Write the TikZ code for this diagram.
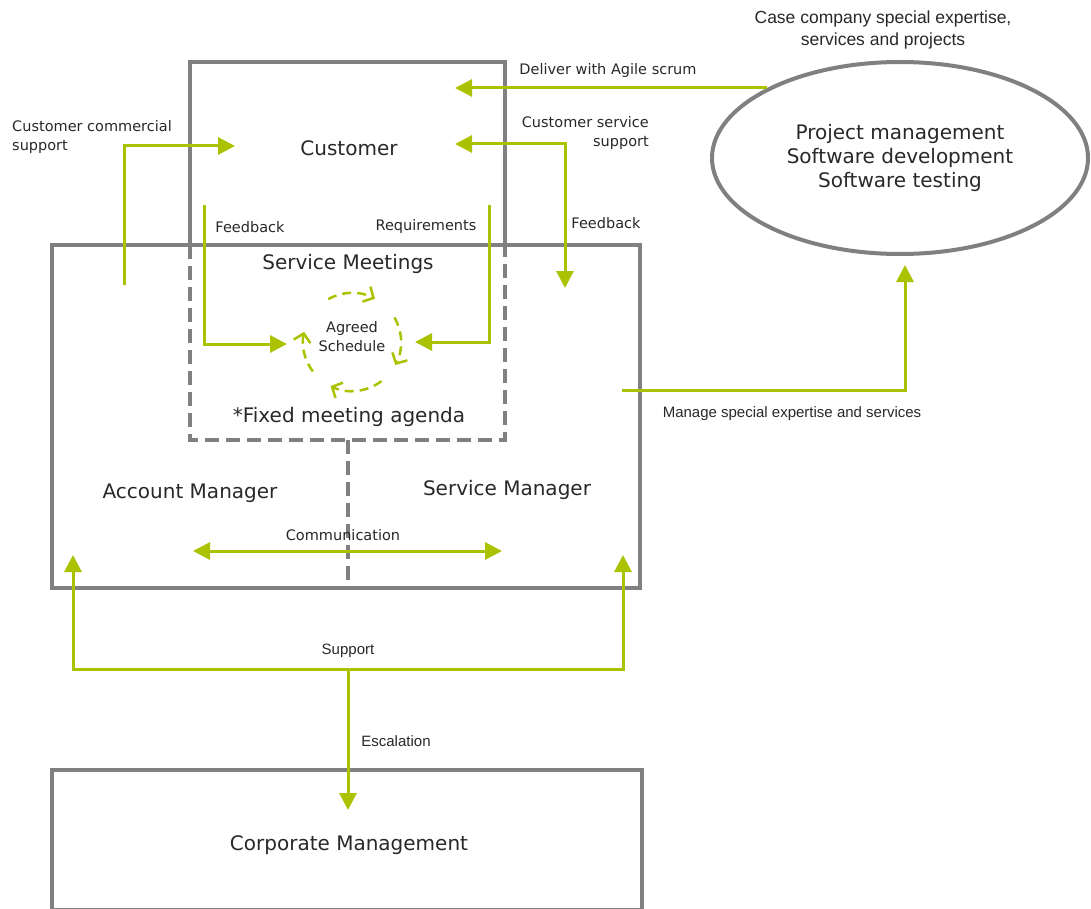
\documentclass[tikz,border=0pt]{standalone}
\usepackage{fontspec}
\setmainfont{DejaVu Sans}
\newfontfamily\arialfont{Liberation Sans}
\usetikzlibrary{arrows.meta,shapes.geometric}
\definecolor{boxgray}{RGB}{128,128,128}
\definecolor{flowgreen}{RGB}{170,194,0}
\definecolor{inkgray}{RGB}{40,40,40}
\tikzset{
  frame/.style={draw=boxgray, line width=4pt},
  dashframe/.style={draw=boxgray, line width=4pt, dash pattern=on 14pt off 7pt},
  flow/.style={draw=flowgreen, line width=3pt, -{Triangle[length=17pt,width=17pt]}},
  flowboth/.style={draw=flowgreen, line width=3pt, {Triangle[length=17pt,width=17pt]}-{Triangle[length=17pt,width=17pt]}},
  cyclearc/.style={draw=flowgreen, line width=2.5pt, dash pattern=on 9pt off 6pt, -{Straight Barb[length=8pt,width=17pt]}},
  lbl/.style={font=\fontsize{14.5}{19}\selectfont, text=inkgray, inner sep=0pt},
  albl/.style={font=\arialfont\fontsize{15}{19}\selectfont, text=inkgray, inner sep=0pt},
  big/.style={font=\fontsize{20}{24}\selectfont, text=inkgray, inner sep=0pt},
}
\begin{document}
\begin{tikzpicture}[x=1pt,y=-1pt]
\useasboundingbox (0,0) rectangle (1091,909);
\clip (0,0) rectangle (1091,909);

% frames
\draw[frame] (52,245) rectangle (640,588);
\draw[frame] (190,245) -- (190,62) -- (505,62) -- (505,245);
\draw[dashframe] (190,245) -- (190,440) -- (505,440) -- (505,245);
\draw[dashframe] (348,440) -- (348,588);
\draw[frame] (52,910) -- (52,770) -- (642,770) -- (642,910) -- cycle;

% expertise ellipse and title
\node[draw=boxgray, line width=4pt, ellipse, minimum width=376pt, minimum height=192pt,
      big, align=center] (expertise) at (900,158)
  {Project management\\Software development\\Software testing};
\node[font=\arialfont\fontsize{17.5}{22}\selectfont, text=inkgray, inner sep=0pt, align=center]
  (casetitle) at (883,30) {Case company special expertise,\\services and projects};

% main texts
\node[big] (customer) at (349,148) {Customer};
\node[big] (meetings) at (348,264) {Service Meetings};
\node[lbl, align=center] (schedule) at (352,337) {Agreed\\Schedule};
\node[big] (agenda) at (349,417) {*Fixed meeting agenda};
\node[big] (account) at (190,493) {Account Manager};
\node[big] (service) at (507,490) {Service Manager};
\node[big] (corporate) at (349,845) {Corporate Management};

% connector labels
\node[lbl] (scrumlbl) at (608,71) {Deliver with Agile scrum};
\node[lbl, align=left, anchor=west] (commlbl) at (12,137) {Customer commercial\\support};
\node[lbl, align=right, anchor=east] (servlbl) at (649,133) {Customer service\\support};
\node[lbl] (fbleft) at (250,227) {Feedback};
\node[lbl] (reqlbl) at (426,226) {Requirements};
\node[lbl] (fbright) at (606,223) {Feedback};
\node[albl] (managelbl) at (792,414) {Manage special expertise and services};
\node[lbl] (commslbl) at (343,535) {Communication};
\node[albl] (supportlbl) at (348,651) {Support};
\node[albl] (escallbl) at (396,741) {Escalation};

% connector end points
\coordinate (scrumA) at (767,88);   \coordinate (scrumB) at (455,88);
\coordinate (commA) at (124,285);   \coordinate (commB) at (235,146);
\coordinate (servA) at (455,144);   \coordinate (servB) at (565,288);
\coordinate (fbA) at (204,205);     \coordinate (fbB) at (287,344);
\coordinate (reqA) at (489,205);    \coordinate (reqB) at (415,342);
\coordinate (mgA) at (622,390);     \coordinate (mgB) at (905,265);
\coordinate (cmA) at (193,551);     \coordinate (cmB) at (502,551);
\coordinate (supL) at (73,555);     \coordinate (supR) at (623,555);
\coordinate (supJ) at (348,669);    \coordinate (escB) at (348,810);

% connectors
\draw[flow] (scrumA) -- (scrumB);
\draw[flow] (commA) |- (commB);
\draw[flowboth] (servA) -| (servB);
\draw[flow] (fbA) |- (fbB);
\draw[flow] (reqA) |- (reqB);
\draw[flow] (mgA) -| (mgB);
\draw[flowboth] (cmA) -- (cmB);
\draw[flowboth] (supL) -- (supL |- supJ) -- (supR |- supJ) -- (supR);
\draw[flow] (supJ) -- (escB);

% agreed schedule cycle
\coordinate (cyc) at (352,342);
\draw[cyclearc] (cyc) ++(119:49pt) arc[start angle=119, end angle=62, radius=49pt];
\draw[cyclearc] (cyc) ++(30:49pt) arc[start angle=30, end angle=-28, radius=49pt];
\draw[cyclearc] (cyc) ++(-53:49pt) arc[start angle=-53, end angle=-116, radius=49pt];
\draw[cyclearc] (cyc) ++(-143:49pt) arc[start angle=-143, end angle=-192, radius=49pt];
\end{tikzpicture}
\end{document}
